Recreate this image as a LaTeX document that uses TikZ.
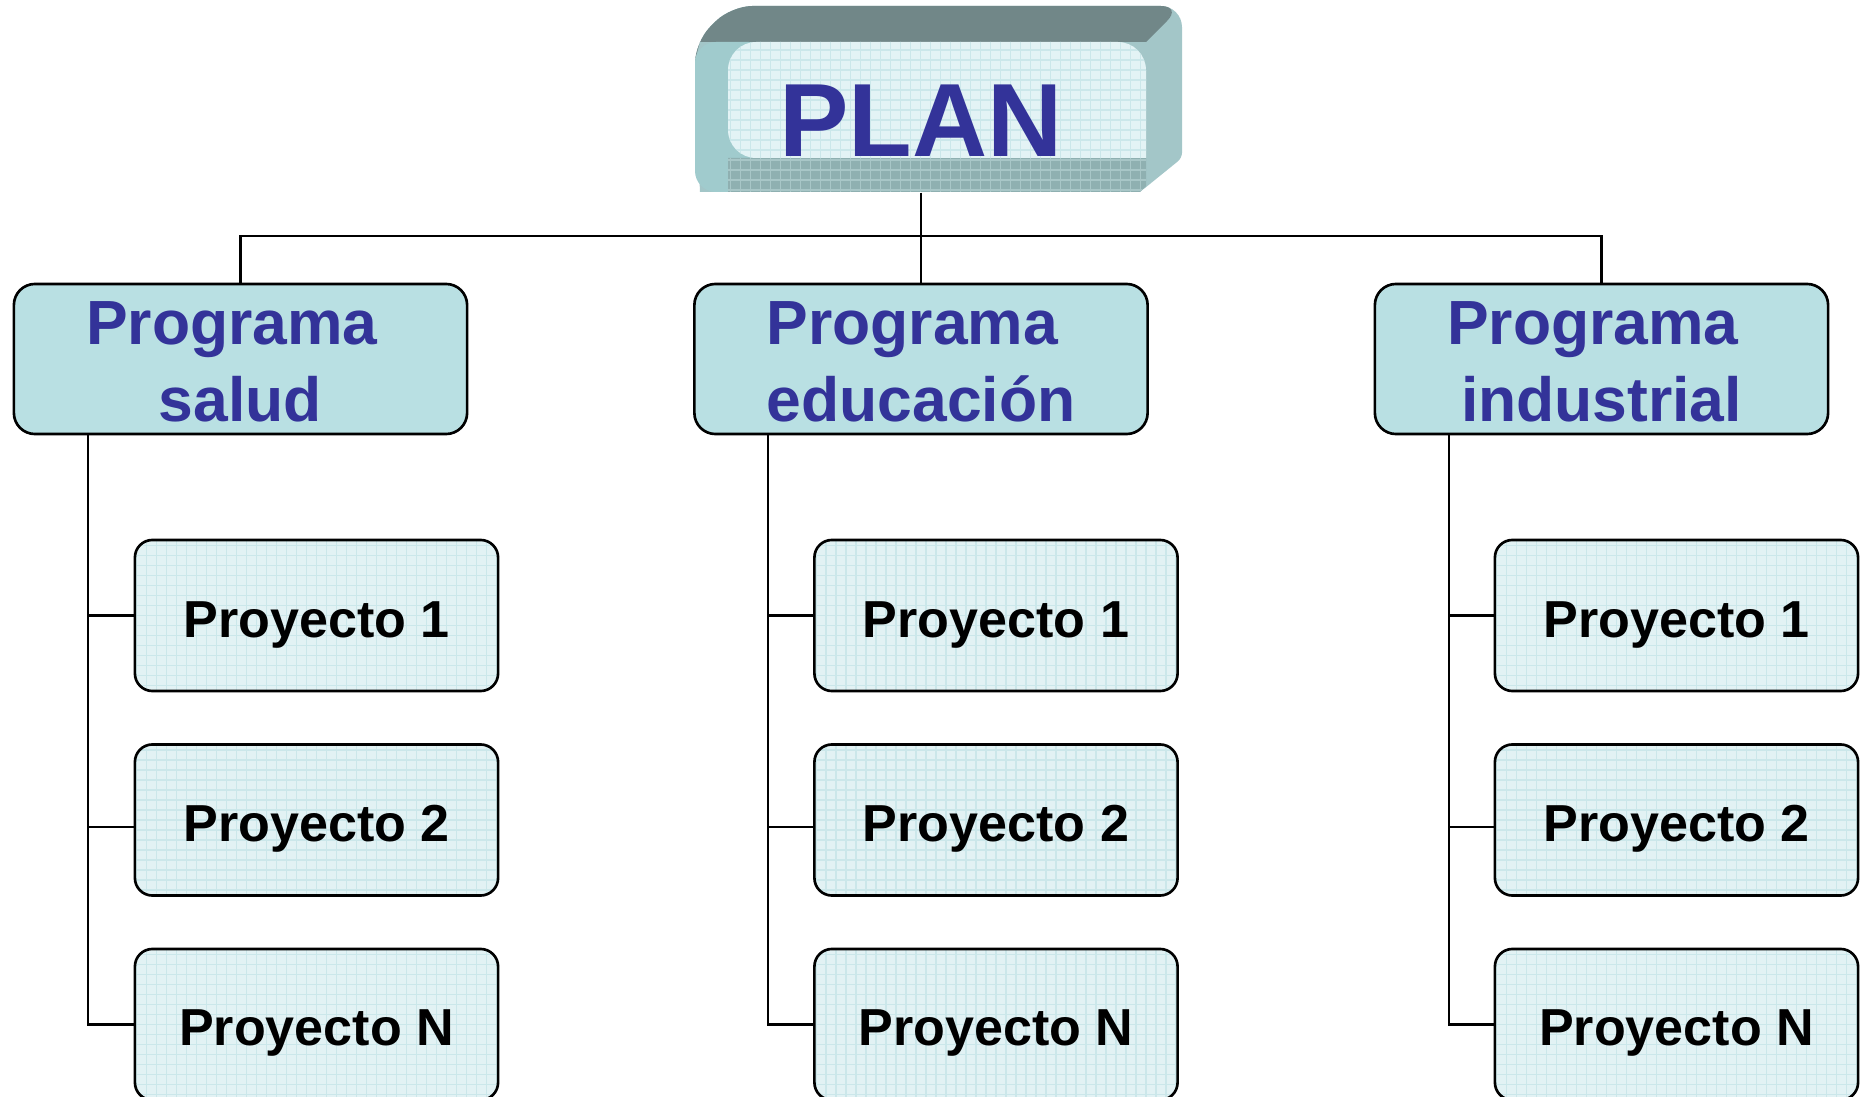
\documentclass[tikz,border=0pt]{standalone}
\usepackage{fontspec}
\setmainfont{Liberation Sans}
\definecolor{txtblue}{RGB}{51,51,153}
\definecolor{progfill}{RGB}{185,224,227}
\definecolor{projfill}{RGB}{226,242,244}
\definecolor{gridc}{RGB}{203,231,234}
\definecolor{topc}{RGB}{113,135,136}
\definecolor{rightc}{RGB}{163,198,200}
\definecolor{leftc}{RGB}{160,203,205}
\definecolor{bottomc}{RGB}{143,176,177}
\definecolor{bottomgrid}{RGB}{168,198,199}
\definecolor{innerc}{RGB}{227,243,245}
\begin{document}
\begin{tikzpicture}[x=0.01cm,y=-0.01cm,
  conn/.style={draw=black, line width=0.6pt},
  progbox/.style={draw=black, line width=0.75pt, rounded corners=6pt, fill=progfill,
    minimum width=4.53cm, minimum height=1.5cm, inner sep=0pt},
  projbox/.style={draw=black, line width=0.75pt, rounded corners=5pt, fill=projfill,
    minimum width=3.63cm, minimum height=1.51cm, inner sep=0pt,
    path picture={\draw[gridc, line width=0.35pt] (path picture bounding box.south west) grid[step=1mm] (path picture bounding box.north east);}},
  progtext/.style={font=\fontsize{17.75}{20}\selectfont\bfseries, text=txtblue, inner sep=0pt, anchor=base},
  projtext/.style={font=\fontsize{14.8}{17}\selectfont\bfseries, text=black, inner sep=0pt, anchor=base},
  plantext/.style={font=\fontsize{29.6}{34}\selectfont\bfseries, text=txtblue, inner sep=0pt, anchor=base}
]
\useasboundingbox (0,0) rectangle (1862,1097);

% ---- PLAN 3D box ----
\fill[rightc] (695,80) [rounded corners=6pt]-- (695,42) -- (731,6) -- (1182,6) [rounded corners=1.5pt]-- (1182,158) -- (1140,192) [sharp corners]-- (700,192) -- cycle;
\fill[topc] (695,60) [rounded corners=6pt]-- (695,42) -- (731,6) -- (1182,6) [sharp corners]-- (1146,42) -- (700,42) -- cycle;
\fill[leftc, rounded corners=6pt] (695,42) rectangle (770,192);
\fill[bottomc] (728,158) -- (1146,158) -- (1146,186) -- (1140,192) -- (728,192) -- cycle;
\begin{scope}
  \clip (728,158) -- (1146,158) -- (1146,186) -- (1140,192) -- (728,192) -- cycle;
  \draw[bottomgrid, line width=0.35pt] (700,150) grid[step=1mm] (1150,195);
\end{scope}
\fill[innerc] (1146,100) [rounded corners=8pt]-- (1146,42) -- (728,42) -- (728,158) [sharp corners]-- (1146,158) -- cycle;
\begin{scope}
  \clip (1146,100) [rounded corners=8pt]-- (1146,42) -- (728,42) -- (728,158) [sharp corners]-- (1146,158) -- cycle;
  \draw[gridc, line width=0.35pt] (720,40) grid[step=1mm] (1150,160);
\end{scope}
\node[minimum width=4.51cm, minimum height=1.5cm, inner sep=0pt] (plan) at (921,117) {};
\node[plantext] (plant) at (921,157) {PLAN};

% ---- Programa boxes ----
\node[progbox] (pg1) at (240.5,359) {};
\node[progbox] (pg2) at (921,359) {};
\node[progbox] (pg3) at (1601.5,359) {};
\node[progtext] (pg1a) at (232,345) {Programa};
\node[progtext] (pg1b) at (240.5,422) {salud};
\node[progtext] (pg2a) at (912.5,345) {Programa};
\node[progtext] (pg2b) at (921,422) {educación};
\node[progtext] (pg3a) at (1593,345) {Programa};
\node[progtext] (pg3b) at (1601.5,422) {industrial};

% ---- Proyecto boxes ----
\node[projbox] (pj11) at (316.5,615.5) {};
\node[projbox] (pj12) at (316.5,820) {};
\node[projbox] (pj13) at (316.5,1024.5) {};
\node[projbox] (pj21) at (996,615.5) {};
\node[projbox] (pj22) at (996,820) {};
\node[projbox] (pj23) at (996,1024.5) {};
\node[projbox] (pj31) at (1676.5,615.5) {};
\node[projbox] (pj32) at (1676.5,820) {};
\node[projbox] (pj33) at (1676.5,1024.5) {};

\node[projtext] (t11) at (316.5,638) {Proyecto 1};
\node[projtext] (t12) at (316.5,842) {Proyecto 2};
\node[projtext] (t13) at (316.5,1045) {Proyecto N};
\node[projtext] (t21) at (996,638) {Proyecto 1};
\node[projtext] (t22) at (996,842) {Proyecto 2};
\node[projtext] (t23) at (996,1045) {Proyecto N};
\node[projtext] (t31) at (1676.5,638) {Proyecto 1};
\node[projtext] (t32) at (1676.5,842) {Proyecto 2};
\node[projtext] (t33) at (1676.5,1045) {Proyecto N};

% ---- connectors ----
\coordinate (bus) at (921,236);
\draw[conn] (plan.south) -- (bus);
\draw[conn] (pg1.north) |- (bus) -| (pg3.north);
\draw[conn] (bus) -- (pg2.north);

\coordinate (tr1) at ([xshift=0.75cm]pg1.south west);
\coordinate (tr2) at ([xshift=0.745cm]pg2.south west);
\coordinate (tr3) at ([xshift=0.75cm]pg3.south west);
\foreach \c in {1,2,3}{
  \coordinate (m\c) at ([yshift=-2pt]pj\c2.west);
  \draw[conn] (tr\c) |- (pj\c3.west);
  \draw[conn] (tr\c |- pj\c1.west) -- (pj\c1.west);
  \draw[conn] (tr\c |- m\c) -- (m\c);
}
\end{tikzpicture}
\end{document}
